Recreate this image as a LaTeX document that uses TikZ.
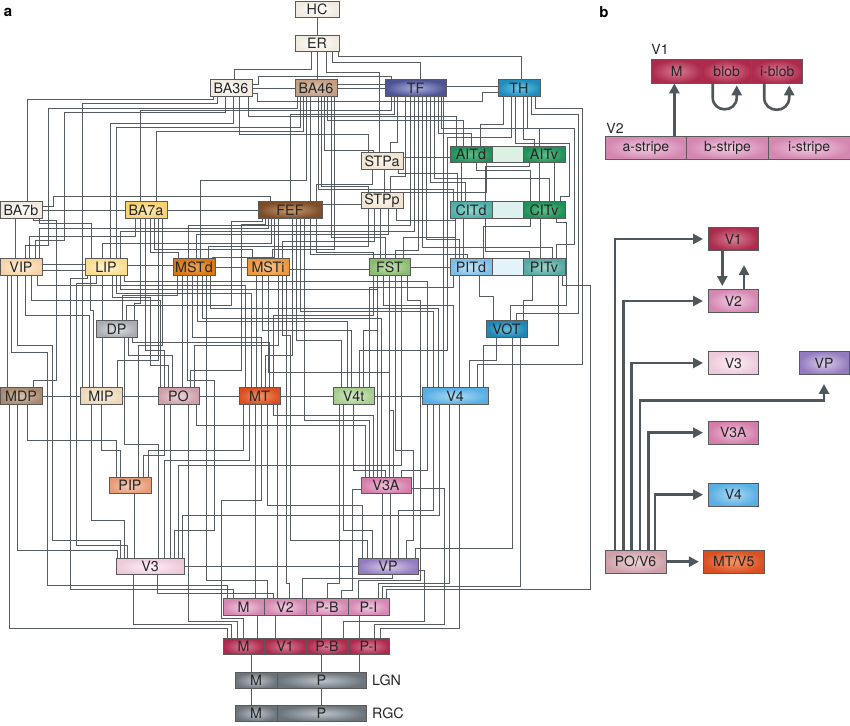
\documentclass[tikz,border=0pt]{standalone}
\usepackage{fontspec}
\setmainfont{TeX Gyre Heros}
\usetikzlibrary{arrows.meta}
\pgfdeclarelayer{bg}
\pgfsetlayers{bg,main}
\definecolor{wirec}{HTML}{555D63}
\definecolor{bordc}{HTML}{5A5A5A}
\definecolor{txtc}{HTML}{262626}
\definecolor{arrc}{HTML}{4E575C}
\definecolor{cWhO}{HTML}{F1EADF}\definecolor{cWhI}{HTML}{FFFFFF}
\definecolor{cBAfO}{HTML}{C29F84}\definecolor{cBAfI}{HTML}{DEC5B1}
\definecolor{cTFO}{HTML}{4E5493}\definecolor{cTFI}{HTML}{A8ADDC}
\definecolor{cTHO}{HTML}{1D8DBE}\definecolor{cTHI}{HTML}{6CC6E6}
\definecolor{cSTPO}{HTML}{F1E3D0}\definecolor{cSTPI}{HTML}{FBF5EC}
\definecolor{cGrO}{HTML}{218F58}\definecolor{cGrI}{HTML}{5FBE8C}
\definecolor{cTeO}{HTML}{4CAFA9}\definecolor{cTeI}{HTML}{9CD7D1}
\definecolor{cPaleG}{HTML}{DCF0E4}\definecolor{cPaleT}{HTML}{DDF1EF}\definecolor{cPaleB}{HTML}{E4F2FA}
\definecolor{cYeO}{HTML}{F7D070}\definecolor{cYeI}{HTML}{FCEBB8}
\definecolor{cFEFO}{HTML}{7D4D2A}\definecolor{cFEFI}{HTML}{C99A6C}
\definecolor{cVIPO}{HTML}{F6D3A5}\definecolor{cVIPI}{HTML}{FDF0DE}
\definecolor{cLIPO}{HTML}{FADC8E}\definecolor{cLIPI}{HTML}{FEF4D6}
\definecolor{cMSTdO}{HTML}{D97612}\definecolor{cMSTdI}{HTML}{EDA55E}
\definecolor{cMSTiO}{HTML}{EC963E}\definecolor{cMSTiI}{HTML}{F7C793}
\definecolor{cFSTO}{HTML}{89BC71}\definecolor{cFSTI}{HTML}{C4E0B4}
\definecolor{cPITdO}{HTML}{7FBDE8}\definecolor{cPITdI}{HTML}{C5E4F7}
\definecolor{cPITvO}{HTML}{56A9A1}\definecolor{cPITvI}{HTML}{A1D3CD}
\definecolor{cDPO}{HTML}{A7ADB3}\definecolor{cDPI}{HTML}{E0E3E6}
\definecolor{cVOTO}{HTML}{1F85B2}\definecolor{cVOTI}{HTML}{6ABCDC}
\definecolor{cMDPO}{HTML}{A98A6F}\definecolor{cMDPI}{HTML}{D6C4B1}
\definecolor{cMIPO}{HTML}{ECD8B9}\definecolor{cMIPI}{HTML}{FAF2E5}
\definecolor{cPOO}{HTML}{CF9FA9}\definecolor{cPOI}{HTML}{EBD4D9}
\definecolor{cMTO}{HTML}{D94F22}\definecolor{cMTI}{HTML}{F29467}
\definecolor{cVftO}{HTML}{A6CD8E}\definecolor{cVftI}{HTML}{DCEDD0}
\definecolor{cVfO}{HTML}{58AFE3}\definecolor{cVfI}{HTML}{ACDAF5}
\definecolor{cPIPO}{HTML}{E69A76}\definecolor{cPIPI}{HTML}{F5CDB9}
\definecolor{cVtAO}{HTML}{D47DAA}\definecolor{cVtAI}{HTML}{EFC3DA}
\definecolor{cVtO}{HTML}{EDC9DC}\definecolor{cVtI}{HTML}{FCF0F6}
\definecolor{cVPO}{HTML}{937BBF}\definecolor{cVPI}{HTML}{D8CDEB}
\definecolor{cVsO}{HTML}{D487B1}\definecolor{cVsI}{HTML}{F1CCE0}
\definecolor{cVoO}{HTML}{AC2A4C}\definecolor{cVoI}{HTML}{DA7C95}
\definecolor{cLGNO}{HTML}{6B737B}\definecolor{cLGNI}{HTML}{BCC3C9}
\newcommand\fa{\fontsize{14.3}{15}\selectfont}
\newcommand\fb{\fontsize{14}{15}\selectfont}
\newcommand\wcn[5]{%
 \path ([xshift=#2pt]#1.south) coordinate (ws) ([xshift=#5pt]#4.north) coordinate (we) (0,#3) coordinate (wl);
 \draw[wire] (ws) -- (ws |- wl) -| (we);}
\newcommand\wcc[7]{%
 \path ([xshift=#2pt]#1.south) coordinate (ws) ([xshift=#7pt]#6.north) coordinate (we) (0,#3) coordinate (wl);
 \draw[wire] (ws) -- (ws |- wl) -- (#4,#3) -- (#4,#5) -| (we);}
\newcommand\whz[3]{%
 \path ([yshift=#3pt]#1.east) coordinate (ws);
 \draw[wire] (ws) -- (ws -| #2.west);}
\newcommand\wvs[3]{%
 \path ([xshift=#2pt]#1.south) coordinate (ws);
 \draw[wire] (ws) -- (ws |- #3.north);}
\tikzset{
 wire/.style={draw=wirec, line width=0.85pt},
 box/.style={draw=bordc, line width=0.55pt, minimum height=16.5pt, inner sep=0pt, text=txtc, font=\fa},
 bbox/.style={box, minimum height=23.4pt, font=\fb},
 shd/.style 2 args={inner color=#1, outer color=#2},
 arr/.style={draw=arrc, line width=2.6pt, -{Triangle[width=10pt,length=10pt]}},
}
\begin{document}
\begin{tikzpicture}[x=1pt,y=-1pt]
\useasboundingbox (0,0) rectangle (850,725);
% ---------------- panel a nodes
\node[font=\bfseries\fontsize{15}{15}\selectfont] (la) at (8,12) {a};
\node[box,minimum width=44pt,shd={cWhI}{cWhO}] (HC) at (317,9.5) {HC};
\node[box,minimum width=44pt,shd={cWhI}{cWhO}] (ER) at (317,43.5) {ER};
\node[box,minimum width=42pt,shd={cWhI}{cWhO}] (BA36) at (231,88) {BA36};
\node[box,minimum width=42pt,shd={cBAfI}{cBAfO}] (BA46) at (316,88) {BA46};
\node[box,minimum width=61pt,shd={cTFI}{cTFO}] (TF) at (415.5,88) {TF};
\node[box,minimum width=42pt,shd={cTHI}{cTHO}] (TH) at (519,88) {TH};
\node[box,minimum width=42pt,shd={cSTPI}{cSTPO}] (STPa) at (382,161) {STPa};
\node[box,minimum width=42pt,shd={cGrI}{cGrO}] (AITd) at (471,154.5) {AITd};
\node[box,minimum width=31pt,fill=cPaleG] (AITm) at (507.5,154.5) {};
\node[box,minimum width=42pt,shd={cGrI}{cGrO}] (AITv) at (544,154.5) {AITv};
\node[box,minimum width=42pt,shd={cSTPI}{cSTPO}] (STPp) at (382,200.5) {STPp};
\node[box,minimum width=42pt,shd={cWhI}{cWhO}] (BA7b) at (21,210) {BA7b};
\node[box,minimum width=42pt,shd={cYeI}{cYeO}] (BA7a) at (146,210) {BA7a};
\node[box,minimum width=64pt,shd={cFEFI}{cFEFO}] (FEF) at (290,210) {FEF};
\node[box,minimum width=42pt,shd={cTeI}{cTeO}] (CITd) at (471,210) {CITd};
\node[box,minimum width=31pt,fill=cPaleT] (CITm) at (507.5,210) {};
\node[box,minimum width=42pt,shd={cGrI}{cGrO}] (CITv) at (544,210) {CITv};
\node[box,minimum width=42pt,shd={cVIPI}{cVIPO}] (VIP) at (21,267) {VIP};
\node[box,minimum width=42pt,shd={cLIPI}{cLIPO}] (LIP) at (106,267) {LIP};
\node[box,minimum width=42pt,shd={cMSTdI}{cMSTdO}] (MSTd) at (194,267) {MSTd};
\node[box,minimum width=42pt,shd={cMSTiI}{cMSTiO}] (MSTi) at (268,267) {MSTi};
\node[box,minimum width=41pt,shd={cFSTI}{cFSTO}] (FST) at (389.5,267) {FST};
\node[box,minimum width=42pt,shd={cPITdI}{cPITdO}] (PITd) at (471,267) {PITd};
\node[box,minimum width=31pt,fill=cPaleB] (PITm) at (507.5,267) {};
\node[box,minimum width=42pt,shd={cPITvI}{cPITvO}] (PITv) at (544,267) {PITv};
\node[box,minimum width=41pt,shd={cDPI}{cDPO}] (DP) at (116.5,329) {DP};
\node[box,minimum width=41pt,shd={cVOTI}{cVOTO}] (VOT) at (506.5,329) {VOT};
\node[box,minimum width=42pt,shd={cMDPI}{cMDPO}] (MDP) at (21,396) {MDP};
\node[box,minimum width=42pt,shd={cMIPI}{cMIPO}] (MIP) at (101,396) {MIP};
\node[box,minimum width=41pt,shd={cPOI}{cPOO}] (PO) at (178.5,396) {PO};
\node[box,minimum width=41pt,shd={cMTI}{cMTO}] (MT) at (259.5,396) {MT};
\node[box,minimum width=41pt,shd={cVftI}{cVftO}] (V4t) at (353.5,396) {V4t};
\node[box,minimum width=66pt,shd={cVfI}{cVfO}] (V4) at (455,396) {V4};
\node[box,minimum width=42pt,shd={cPIPI}{cPIPO}] (PIP) at (130,485.5) {PIP};
\node[box,minimum width=50pt,shd={cVtAI}{cVtAO}] (V3A) at (386,485.5) {V3A};
\node[box,minimum width=68pt,shd={cVtI}{cVtO}] (V3) at (150,566.5) {V3};
\node[box,minimum width=60pt,shd={cVPI}{cVPO}] (VP) at (388,566.5) {VP};
\node[box,minimum width=41pt,shd={cVsI}{cVsO}] (V2M) at (243.5,607) {M};
\node[box,minimum width=42pt,shd={cVsI}{cVsO}] (V2) at (285,607) {V2};
\node[box,minimum width=42pt,shd={cVsI}{cVsO}] (V2PB) at (327,607) {P-B};
\node[box,minimum width=41pt,shd={cVsI}{cVsO}] (V2PI) at (368.5,607) {P-I};
\node[box,minimum width=41pt,shd={cVoI}{cVoO}] (V1M) at (243.5,646.5) {M};
\node[box,minimum width=42pt,shd={cVoI}{cVoO}] (V1) at (285,646.5) {V1};
\node[box,minimum width=42pt,shd={cVoI}{cVoO}] (V1PB) at (327,646.5) {P-B};
\node[box,minimum width=41pt,shd={cVoI}{cVoO}] (V1PI) at (368.5,646.5) {P-I};
\node[box,minimum width=42pt,shd={cLGNI}{cLGNO}] (LGNM) at (256,680.5) {M};
\node[box,minimum width=89pt,shd={cLGNI}{cLGNO}] (LGNP) at (321.5,680.5) {P};
\node[box,minimum width=42pt,shd={cLGNI}{cLGNO}] (RGCM) at (256,713.5) {M};
\node[box,minimum width=89pt,shd={cLGNI}{cLGNO}] (RGCP) at (321.5,713.5) {P};
\node[anchor=west,font=\fa,text=txtc,inner sep=0pt] (lgnl) at (372,680.5) {LGN};
\node[anchor=west,font=\fa,text=txtc,inner sep=0pt] (rgcl) at (372,713.5) {RGC};
% ---------------- wires
\begin{pgfonlayer}{bg}
\fill[white] (0,0) rectangle (850,725);
\wvs{HC}{0}{ER}
\wcn{ER}{-6}{69}{BA36}{3}
\wvs{ER}{0}{BA46}
\wcn{ER}{9}{72}{STPa}{-3}
\wcn{ER}{15}{62}{TF}{5}
\wcn{ER}{21}{56}{TH}{2}
% BA36
\whz{BA36}{BA46}{0}
\path ([yshift=4pt]BA36.east) coordinate (ws) ([xshift=-24pt]TF.north) coordinate (we);
\draw[wire] (ws) -| (258,76) -| (we);
\path ([yshift=-5pt]BA36.east) coordinate (ws) ([yshift=-4pt]TH.west) coordinate (we);
\draw[wire] (ws) -| (257,101) -- (482,101) |- (we);
\wcn{BA36}{-18}{99}{BA7b}{6}
\wcn{BA36}{-14}{103}{MIP}{-19}
\wcc{BA36}{-6}{112}{64}{240}{VIP}{14}
\wcn{BA36}{2}{123}{LIP}{4}
\wcn{BA36}{8}{134}{STPa}{-14}
\wcn{BA36}{17}{116}{AITd}{-15}
% BA46
\whz{BA46}{TF}{0}
\whz{BA46}{TF}{4}
\wcc{BA46}{-19}{108}{48}{245}{VIP}{4}
\wcn{BA46}{-16}{127}{LIP}{10}
\wcn{BA46}{-13}{131}{BA7a}{10}
\wcn{BA46}{-10}{180}{MSTd}{6}
\wvs{BA46}{-6}{FEF}
\wcn{BA46}{2}{189}{CITd}{-18}
\wcn{BA46}{5}{186}{STPp}{-14}
\wcn{BA46}{8}{150}{STPa}{-9}
\wcn{BA46}{11}{120}{AITd}{-8}
\wcn{BA46}{15}{237}{FST}{-4}
\wcn{BA46}{18}{249}{MSTi}{4}
% TF
\whz{TF}{TH}{2}
\wcn{TF}{-24}{110}{BA7a}{-6}
\wcn{TF}{-21}{114}{FEF}{0}
\wcn{TF}{-18}{142}{STPa}{8}
\wcn{TF}{-10}{176}{STPp}{8}
\wcn{TF}{-5}{225}{MSTd}{-6}
\wcn{TF}{-1}{231}{LIP}{14}
\wcn{TF}{3}{250}{FST}{6}
\wcn{TF}{7}{247}{PITv}{8}
\wcn{TF}{11}{239}{PITd}{-12}
\wcn{TF}{15}{182}{CITd}{-6}
\wcn{TF}{19}{178}{CITv}{5}
\wcn{TF}{23}{133}{AITd}{0}
\wcn{TF}{26}{128}{AITv}{-5}
\wvs{TF}{28}{V4}
% TH
\wcn{TH}{-16}{124}{AITd}{9}
\wcc{TH}{-8}{137}{447}{350}{V4t}{6}
\wcc{TH}{-4}{143}{569}{196}{CITv}{16}
\wcn{TH}{4}{139}{AITv}{-10}
\wcc{TH}{8}{128}{574}{244}{PITv}{12}
\wcc{TH}{12}{114}{578}{313}{VOT}{10}
\wcc{TH}{16}{108}{582}{364}{V4}{22}
% STPa
\whz{STPa}{AITd}{4}
\wvs{STPa}{2}{STPp}
\wcn{STPa}{-10}{184}{FEF}{26}
\wcn{STPa}{16}{173}{CITd}{-14}
% AIT
\wvs{AITd}{-10}{CITd}
\wcn{AITd}{5}{170}{CITv}{-14}
\wcn{AITd}{15}{192}{STPp}{18}
\wcn{AITv}{-15}{166}{CITd}{14}
\wvs{AITv}{-5}{CITv}
\wvs{AITv}{10}{CITv}
% CIT
\wcn{CITd}{-16}{237}{FST}{14}
\wvs{CITd}{-8}{PITd}
\wcn{CITd}{14}{251}{PITv}{-15}
\wcn{CITv}{-14}{226.5}{PITd}{12}
\wvs{CITv}{-4}{PITv}
\wcc{CITv}{12}{222}{566}{305}{VOT}{4}
% STPp
\path ([yshift=-4pt]STPp.west) coordinate (ws);
\draw[wire] (ws) -- (ws -| FEF.east);
\wcn{STPp}{-14}{246}{MSTd}{14}
\wcn{STPp}{-8}{241}{MSTi}{14}
\wvs{STPp}{-2}{FST}
\wcn{STPp}{6}{234}{MSTd}{2}
\wcn{STPp}{14}{220}{PITd}{-16}
% BA7b
\whz{BA7b}{BA7a}{0}
\path ([yshift=4pt]BA7b.east) coordinate (ws) ([xshift=-20pt]FEF.north) coordinate (we);
\draw[wire] (ws) -| (53,196) -| (we);
\wvs{BA7b}{-6}{VIP}
\wcc{BA7b}{12}{220}{56}{380}{MDP}{12}
\wcn{BA7b}{18}{223}{LIP}{-15}
% BA7a
\whz{BA7a}{FEF}{0}
\wcn{BA7a}{-11}{236}{VIP}{8}
\wcn{BA7a}{-6}{303}{DP}{18}
\wcn{BA7a}{-1}{350}{PO}{-14}
\wcn{BA7a}{4}{252}{MSTd}{-16}
\wcn{BA7a}{8}{249}{MSTi}{-16}
\wcn{BA7a}{12}{360}{MIP}{16}
\wcn{BA7a}{16}{345}{PIP}{8}
% FEF
\wcc{FEF}{-28}{221}{231}{305}{DP}{10}
\wcc{FEF}{-25}{224}{241}{370}{PO}{12}
\wcn{FEF}{-22}{228}{VIP}{18}
\wcn{FEF}{-19}{243}{LIP}{-4}
\wcn{FEF}{-16}{257}{MSTd}{18}
\wvs{FEF}{-12}{MSTi}
\wcn{FEF}{2}{355}{MT}{6}
\wcn{FEF}{6}{340}{V4t}{-12}
\wcn{FEF}{10}{311}{V4}{-22}
\wcn{FEF}{14}{420}{V3A}{-17}
\wcn{FEF}{20}{254.5}{PITd}{-4}
\wcn{FEF}{26}{252}{FST}{-16}
% VIP
\whz{VIP}{LIP}{3}
\whz{VIP}{LIP}{-3}
\wvs{VIP}{-14}{MDP}
\wcc{VIP}{-10}{352}{47}{585}{V2M}{-16}
\wcc{VIP}{-4}{345}{52}{540}{V3}{-29.5}
\wcn{VIP}{4}{315}{MIP}{-12}
\wcn{VIP}{10}{300}{PO}{-18}
\wcn{VIP}{16}{285}{MT}{-14}
% LIP
\whz{LIP}{MSTd}{2}
\wcc{LIP}{-19}{278}{70}{589}{V2M}{-10}
\wcn{LIP}{-16}{310}{MIP}{-8}
\wcc{LIP}{-10}{283}{76}{545}{V3}{-22.5}
\wvs{LIP}{-4}{DP}
\wcc{LIP}{6}{297}{150}{365}{PO}{-10}
\wcn{LIP}{10}{293}{MT}{-8}
\wcn{LIP}{14}{289}{V3A}{-9}
\wcn{LIP}{18}{281}{V4}{-28}
% MSTd
\whz{MSTd}{MSTi}{0}
\wcn{MSTd}{-17}{295}{DP}{6}
\wvs{MSTd}{-12}{PO}
\wcc{MSTd}{-7}{380}{214}{530}{V3}{24}
\wcn{MSTd}{-2}{337}{MT}{2}
\wcn{MSTd}{3}{321}{V4t}{-6}
\wcn{MSTd}{8}{318}{V3A}{-5}
\wcn{MSTd}{12}{580}{V2}{-18}
\wcn{MSTd}{16}{308}{V4}{-17}
% MSTi
\whz{MSTi}{FST}{-2}
\wvs{MSTi}{-12}{MT}
\wcn{MSTi}{-6}{330}{V4t}{-2}
\wcn{MSTi}{0}{372}{V3A}{3}
\wcn{MSTi}{10}{345}{PO}{16}
\wcc{MSTi}{14}{335}{290}{540}{VP}{-21}
\wcn{MSTi}{18}{583}{V2}{4}
% FST
\whz{FST}{PITd}{0}
\wcn{FST}{-16}{315}{MT}{14}
\wcn{FST}{-12}{330}{V4t}{10}
\wcn{FST}{-6}{305}{V4}{-2}
\wcn{FST}{0}{410}{V3A}{7}
\wcc{FST}{6}{450}{413}{540}{VP}{18}
\wcn{FST}{12}{465}{V3}{28}
\wcc{FST}{18}{300}{420}{580}{V2PI}{-10}
% PIT
\wcn{PITd}{8}{296}{VOT}{-13}
\wcn{PITv}{-12}{300}{VOT}{17}
\wvs{PITd}{-12}{V4}
\wcn{PITd}{-18}{287}{V4t}{16}
\wcn{PITv}{14}{345}{V4}{28}
\wcc{PITv}{18}{285}{590}{589}{V2PI}{18}
% DP
\wvs{DP}{-14}{MIP}
\wcn{DP}{8}{444}{V3}{8}
\wcn{DP}{12}{355}{PO}{-6}
\wcn{DP}{16}{342}{MT}{10}
% VOT
\wcn{VOT}{-10}{360}{V4}{14}
\wcn{VOT}{6}{548}{VP}{27}
\wcn{VOT}{14}{586}{V2PI}{14}
% MDP
\whz{MDP}{MIP}{0}
\wcn{MDP}{-12}{628}{V1M}{-16}
\wcn{MDP}{-4}{550}{V3}{-33}
\wcn{MDP}{6}{440}{PIP}{-14}
% MIP
\whz{MIP}{PO}{0}
\wcn{MIP}{-10}{520}{V3}{-26}
\wcn{MIP}{0}{450}{PIP}{-10}
% PO
\whz{PO}{MT}{0}
\wcn{PO}{-14}{455}{PIP}{13}
\wvs{PO}{-8}{V3}
\wcn{PO}{18}{425}{V3A}{-21}
\wcn{PO}{10}{621}{V1M}{-6}
% MT
\whz{MT}{V4t}{0}
\wcn{MT}{-16}{450}{PIP}{18}
\wcn{MT}{-10}{460}{V3}{14}
\wvs{MT}{-4}{V2M}
\wcc{MT}{2}{500}{221}{618}{V1M}{0}
\wcn{MT}{8}{505}{VP}{-26}
\wcn{MT}{14}{415}{V3A}{-13}
\wvs{MT}{18}{V2}
% V4t
\whz{V4t}{V4}{0}
\wcn{V4t}{-14}{583}{V2PB}{0}
\wcn{V4t}{-10}{530}{VP}{-16}
\wcn{V4t}{0}{470}{V3A}{-1}
% V4
\wcn{V4}{-28}{470}{V3A}{15}
\wcn{V4}{-22}{510}{VP}{10}
\wcn{V4}{-16}{515}{V3}{32}
\wcn{V4}{-6}{583}{V2PI}{10}
\wcn{V4}{4}{628}{V1PI}{12}
% PIP, V3A, V3, VP
\wvs{PIP}{4}{V3}
\wvs{V3A}{-4}{VP}
\wvs{V3A}{4}{VP}
\path ([yshift=-3pt]V3A.east) coordinate (ws) ([xshift=6pt]V1PI.north) coordinate (we);
\draw[wire] (ws) -| (444,624) -| (we);
\path ([yshift=-4pt]V3A.west) coordinate (ws) ([xshift=14pt]V2PB.north) coordinate (we);
\draw[wire] (ws) -| (352,590) -| (we);
\whz{V3}{VP}{0}
\wcn{V3}{-17}{624}{V1M}{-12}
\wcn{V3}{7}{593}{V2}{-12}
\wcn{VP}{4}{578}{V2}{17}
\path ([yshift=-4pt]VP.east) coordinate (ws) ([xshift=16pt]V1PB.north) coordinate (we);
\draw[wire] (ws) -| (424,621) -| (we);
% V2 -> V1 -> LGN -> RGC
\wvs{V2M}{14}{V1M}
\wvs{V2}{-10}{V1}
\wvs{V2PB}{-6}{V1PB}
\wvs{V2PI}{-9.5}{V1PI}
\wvs{V1M}{8}{LGNM}
\wvs{V1PB}{-6}{LGNP}
\wvs{V1PI}{-9.5}{LGNP}
\wvs{LGNM}{-4.5}{RGCM}
\wvs{LGNP}{-0.5}{RGCP}
\end{pgfonlayer}
% ---------------- panel b
\node[font=\bfseries\fontsize{15}{15}\selectfont] (lb) at (604,12) {b};
\node[font=\fb,text=txtc] (lv1) at (660,49) {V1};
\node[font=\fb,text=txtc] (lv2) at (615,128) {V2};
\node[bbox,minimum width=50pt,shd={cVoI}{cVoO}] (b1M) at (676.7,71.4) {M};
\node[bbox,minimum width=50pt,shd={cVoI}{cVoO}] (b1blob) at (726.7,71.4) {blob};
\node[bbox,minimum width=51pt,shd={cVoI}{cVoO}] (b1iblob) at (777.2,71.4) {i-blob};
\node[bbox,minimum width=81.7pt,shd={cVsI}{cVsO}] (b2a) at (645.85,147.7) {a-stripe};
\node[bbox,minimum width=81.7pt,shd={cVsI}{cVsO}] (b2b) at (727.5,147.7) {b-stripe};
\node[bbox,minimum width=81.7pt,shd={cVsI}{cVsO}] (b2i) at (809.15,147.7) {i-stripe};
\path ([xshift=28.5pt]b2a.north) coordinate (p);
\draw[arr] (p) -- (p |- b1M.south);
\draw[arr] ([xshift=-14pt]b1blob.south) -- ++(0,14) to[out=-90,in=-90,looseness=1.7] ++(24,0) -- ++(0,-12);
\draw[arr] ([xshift=-13pt]b1iblob.south) -- ++(0,14) to[out=-90,in=-90,looseness=1.7] ++(25,0) -- ++(0,-12);
\node[bbox,minimum width=50pt,shd={cVoI}{cVoO}] (bV1) at (733.3,239) {V1};
\node[bbox,minimum width=50pt,shd={cVsI}{cVsO}] (bV2) at (733.3,301) {V2};
\node[bbox,minimum width=50pt,shd={cVtI}{cVtO}] (bV3) at (733.3,363) {V3};
\node[bbox,minimum width=50pt,shd={cVPI}{cVPO}] (bVP) at (824,363) {VP};
\node[bbox,minimum width=50pt,shd={cVtAI}{cVtAO}] (bV3A) at (733.3,432.7) {V3A};
\node[bbox,minimum width=50pt,shd={cVfI}{cVfO}] (bV4) at (733.3,494.7) {V4};
\node[bbox,minimum width=61pt,shd={cPOI}{cPOO}] (bPO) at (635.5,561.7) {PO/V6};
\node[bbox,minimum width=61pt,shd={cMTI}{cMTO}] (bMT) at (733.7,561.7) {MT/V5};
\draw[arr] ([xshift=-20.5pt]bPO.north) |- ([xshift=-5pt]bV1.west);
\draw[arr] ([xshift=-12.2pt]bPO.north) |- ([xshift=-5pt]bV2.west);
\draw[arr] ([xshift=-3.8pt]bPO.north) |- ([xshift=-5pt]bV3.west);
\draw[arr] ([xshift=4.5pt]bPO.north) |- ([yshift=-25.7pt]bVP.south) -- ([yshift=-9pt]bVP.south);
\draw[arr] ([xshift=12.8pt]bPO.north) |- ([xshift=-5pt]bV3A.west);
\draw[arr] ([xshift=19.5pt]bPO.north) |- ([xshift=-5pt]bV4.west);
\draw[arr] (bPO.east) -- ([xshift=-4pt]bMT.west);
\path ([xshift=-11pt]bV1.south) coordinate (p);
\draw[arr] (p) -- ([yshift=3pt]p |- bV2.north);
\draw[arr] ([xshift=10.7pt]bV2.north) -- ++(0,-24);
\end{tikzpicture}
\end{document}
